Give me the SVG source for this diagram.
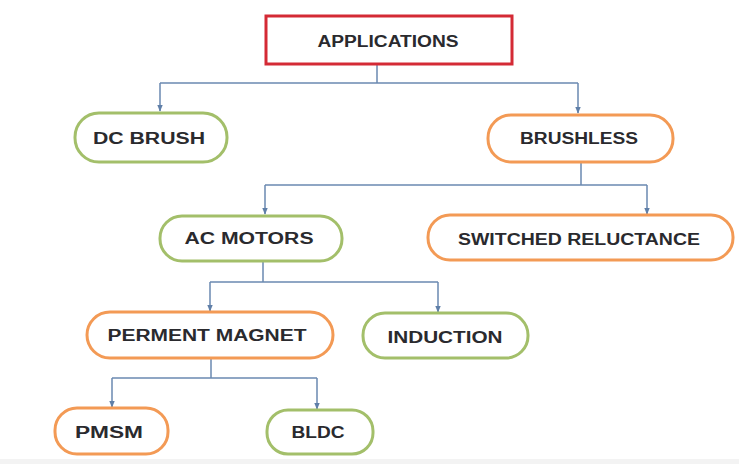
<svg xmlns="http://www.w3.org/2000/svg" width="739" height="464" viewBox="0 0 739 464">
<defs>
<marker id="arr" viewBox="0 0 10 10" refX="9" refY="5" markerWidth="7" markerHeight="7" markerUnits="userSpaceOnUse" orient="auto">
<path d="M0,1 L10,5 L0,9 Z" fill="#5f7fa8"/>
</marker>
<style>
.green{fill:#ffffff;stroke:#a3bf6a;stroke-width:3}
.orange{fill:#ffffff;stroke:#f39a55;stroke-width:3}
.red{fill:#ffffff;stroke:#d42a35;stroke-width:3}
.t{font-family:"Liberation Sans",Arial,sans-serif;font-weight:bold;font-size:16px;fill:#2a2a2e;text-anchor:middle}
.c{fill:none;stroke:#6a88b0;stroke-width:1.5}
</style>
</defs>
<rect x="0" y="0" width="739" height="464" fill="#ffffff"/>
<g id="connectors">
<path class="c" d="M377,64 V83"/>
<path class="c" d="M160,83 H578"/>
<path class="c" d="M160,83 V111" marker-end="url(#arr)"/>
<path class="c" d="M578,83 V113" marker-end="url(#arr)"/>
<path class="c" d="M581,162 V185"/>
<path class="c" d="M265,185 H647"/>
<path class="c" d="M265,185 V214" marker-end="url(#arr)"/>
<path class="c" d="M647,185 V214" marker-end="url(#arr)"/>
<path class="c" d="M263,261 V282"/>
<path class="c" d="M210,282 H438"/>
<path class="c" d="M210,282 V311" marker-end="url(#arr)"/>
<path class="c" d="M438,282 V312" marker-end="url(#arr)"/>
<path class="c" d="M211,358 V378"/>
<path class="c" d="M112,378 H317"/>
<path class="c" d="M112,378 V407" marker-end="url(#arr)"/>
<path class="c" d="M317,378 V409" marker-end="url(#arr)"/>
</g>
<g id="applications">
<rect class="red" x="266" y="16" width="246" height="48"/>
<text class="t" x="388" y="47" textLength="141" lengthAdjust="spacingAndGlyphs">APPLICATIONS</text>
</g>
<g id="dc-brush">
<rect class="green" x="75" y="113" width="152" height="49" rx="24" ry="24"/>
<text class="t" x="149" y="144" textLength="112" lengthAdjust="spacingAndGlyphs">DC BRUSH</text>
</g>
<g id="brushless">
<rect class="orange" x="488" y="115" width="185" height="47" rx="23" ry="23"/>
<text class="t" x="579" y="144" textLength="118" lengthAdjust="spacingAndGlyphs">BRUSHLESS</text>
</g>
<g id="switched-reluctance">
<rect class="orange" x="428" y="215" width="305" height="45" rx="22" ry="22"/>
<text class="t" x="579" y="245" textLength="242" lengthAdjust="spacingAndGlyphs">SWITCHED RELUCTANCE</text>
</g>
<g id="ac-motors">
<rect class="green" x="160" y="216" width="182" height="45" rx="22" ry="22"/>
<text class="t" x="249" y="244" textLength="129" lengthAdjust="spacingAndGlyphs">AC MOTORS</text>
</g>
<g id="perment-magnet">
<rect class="orange" x="87" y="312" width="246" height="46" rx="23" ry="23"/>
<text class="t" x="207" y="341" textLength="199" lengthAdjust="spacingAndGlyphs">PERMENT MAGNET</text>
</g>
<g id="induction">
<rect class="green" x="363" y="313" width="165" height="45" rx="22" ry="22"/>
<text class="t" x="445" y="343" textLength="115" lengthAdjust="spacingAndGlyphs">INDUCTION</text>
</g>
<g id="pmsm">
<rect class="orange" x="55" y="408" width="113" height="46" rx="22" ry="22"/>
<text class="t" x="109" y="438" textLength="68" lengthAdjust="spacingAndGlyphs">PMSM</text>
</g>
<g id="bldc">
<rect class="green" x="267" y="410" width="106" height="44" rx="21" ry="21"/>
<text class="t" x="318" y="438" textLength="53" lengthAdjust="spacingAndGlyphs">BLDC</text>
</g>
<rect x="0" y="459" width="739" height="5" fill="#f3f3f3"/>
</svg>
